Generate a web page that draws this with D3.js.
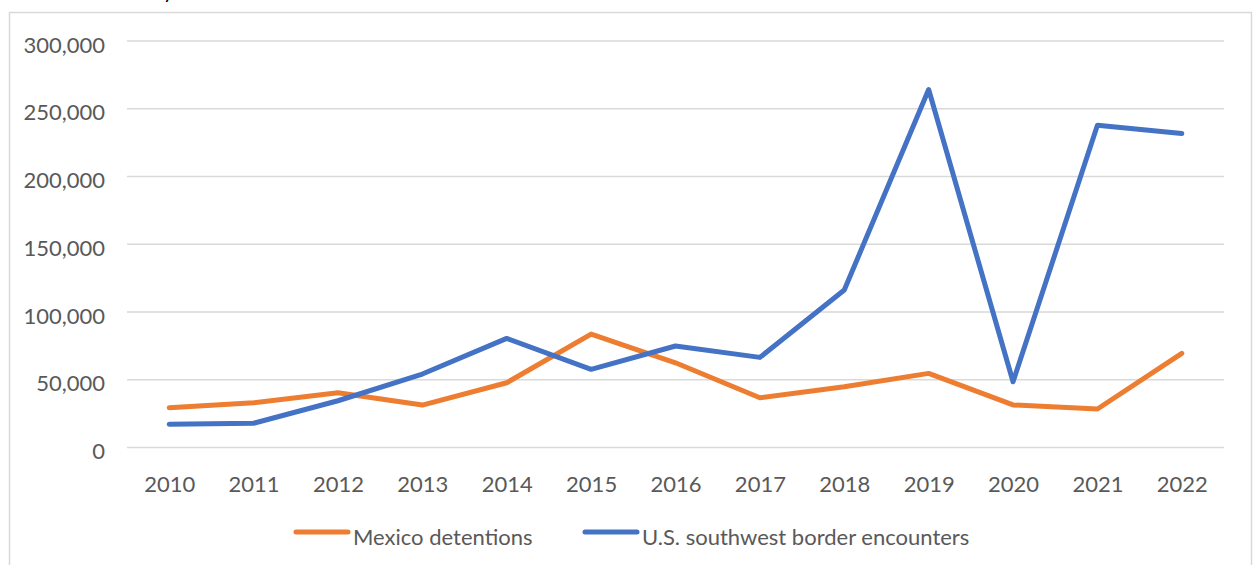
<!DOCTYPE html>
<html>
<head>
<meta charset="utf-8">
<script src="https://cdn.jsdelivr.net/npm/d3@7"></script>
<style>
  body { margin: 0; background: #fff; }
  text { font-family: Lato, "Noto Sans", sans-serif; fill: #595959; }
</style>
</head>
<body>
<div id="chart"></div>
<script>
// data
var years = ["2010","2011","2012","2013","2014","2015","2016","2017","2018","2019","2020","2021","2022"];
var mexico = [29400, 33000, 40400, 31300, 47800, 83700, 62500, 36700, 44900, 54700, 31400, 28400, 69500];
var usBorder = [17100, 17900, 34500, 54200, 80500, 57700, 74900, 66500, 116200, 264200, 48500, 237800, 231700];
var yTicks = [0, 50000, 100000, 150000, 200000, 250000, 300000];
var seriesNames = ["Mexico detentions", "U.S. southwest border encounters"];
var colors = ["#ED7D31", "#4472C4"];

var W = 1253, H = 565;
var svg = d3.select("#chart").append("svg")
    .attr("width", W)
    .attr("height", H);

// outer chart frame
svg.append("rect")
    .attr("x", 9.5).attr("y", 12.5)
    .attr("width", 1242).attr("height", 600)
    .attr("fill", "none")
    .attr("stroke", "#D9D9D9")
    .attr("stroke-width", 1.5);

// bit of the title that peeks in at the top
svg.append("text")
    .attr("x", 163).attr("y", -2)
    .style("fill", "#000")
    .attr("font-size", "21px")
    .text("y");

var x = d3.scalePoint()
    .domain(years)
    .range([127, 1224])
    .padding(0.5);

var y = d3.scaleLinear()
    .domain([0, 300000])
    .range([447.5, 41]);

var fmt = d3.format(",");

// gridlines
svg.append("g")
  .selectAll("line")
  .data(yTicks)
  .enter().append("line")
    .attr("x1", 127).attr("x2", 1224)
    .attr("y1", function(d) { return y(d); })
    .attr("y2", function(d) { return y(d); })
    .attr("stroke", "#D9D9D9")
    .attr("stroke-width", 1.5);

// y axis labels
var yAxis = svg.append("g")
    .attr("transform", "translate(105,4)")
    .call(d3.axisLeft(y).tickValues(yTicks).tickFormat(fmt).tickSize(0).tickPadding(0));
yAxis.select(".domain").remove();
yAxis.selectAll("text")
    .attr("font-size", "22px")
    .attr("font-family", "Lato, 'Noto Sans', sans-serif")
    .style("fill", "#595959");

// x axis labels
var xAxis = svg.append("g")
    .attr("transform", "translate(0,476)")
    .call(d3.axisBottom(x).tickSize(0).tickPadding(0));
xAxis.select(".domain").remove();
xAxis.selectAll("text")
    .attr("font-size", "22px")
    .attr("font-family", "Lato, 'Noto Sans', sans-serif")
    .style("fill", "#595959");

var line = d3.line()
    .x(function(d, i) { return x(years[i]); })
    .y(function(d) { return y(d); });

[mexico, usBorder].forEach(function(s, k) {
  svg.append("path")
      .datum(s)
      .attr("d", line)
      .attr("fill", "none")
      .attr("stroke", colors[k])
      .attr("stroke-width", 5)
      .attr("stroke-linejoin", "round")
      .attr("stroke-linecap", "round");
});

// legend
var legendX = [296, 585];
var legend = svg.append("g");
seriesNames.forEach(function(name, k) {
  legend.append("line")
      .attr("x1", legendX[k]).attr("x2", legendX[k] + 52)
      .attr("y1", 532).attr("y2", 532)
      .attr("stroke", colors[k])
      .attr("stroke-width", 5)
      .attr("stroke-linecap", "round");
  legend.append("text")
      .attr("x", legendX[k] + 57)
      .attr("y", 545)
      .attr("font-size", "22px")
      .text(name);
});
</script>
</body>
</html>
